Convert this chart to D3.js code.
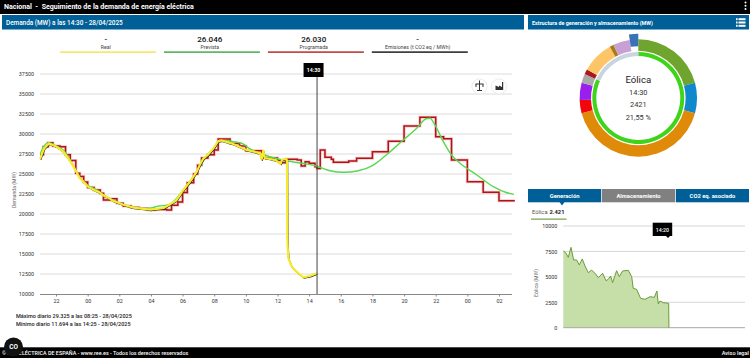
<!DOCTYPE html>
<html>
  <head>
    <title>Seguimiento de la demanda de energía eléctrica</title>
    <meta charset='utf-8' />
    <script src="https://d3js.org/d3.v7.min.js"></script>
    <style>
    html, body { margin: 0; padding: 0; background: #fff; overflow: hidden; }
    text { font-family: "Roboto", sans-serif; }
    </style>
  </head>
  <body>
    <div id="chart"></div>
    <script>
// hours counted from 00:00 of 28/04, negative = evening of 27/04
var realHours = [-3, -2.93, -2.75, -2.45, -2, -1.55, -1.25, -1, -0.5, -0.25, 0, 0.47, 0.75, 1, 1.25, 1.6, 2.25, 2.9, 3.5, 3.95, 4.4, 4.8, 5.2, 5.6, 6.05, 6.47, 6.9, 7.1, 7.3, 7.6, 7.95, 8.25, 8.45, 9.2, 10.05, 10.5, 10.9, 11, 11.1, 11.2, 11.5, 11.9, 12.2, 12.3, 12.55, 12.6, 12.62, 12.68, 12.9, 13.2, 13.63, 14.05, 14.48];
var realValues = [26900, 27300, 28200, 28800, 28450, 27800, 27000, 26300, 24500, 24000, 23450, 22950, 22700, 22300, 22100, 21650, 21150, 20800, 20650, 20550, 20650, 20750, 21200, 21700, 23000, 24050, 25300, 26200, 26900, 27400, 28200, 29100, 29200, 28750, 28000, 27800, 27580, 26800, 28000, 27000, 26900, 26700, 26300, 26800, 26900, 26700, 17000, 14500, 13410, 12790, 12090, 12250, 12590];

var forecastHours = [-3, -2.75, -2.45, -2, -1.5, -1, -0.5, 0, 0.5, 1, 1.6, 2.25, 2.9, 3.5, 4, 4.5, 5, 5.5, 6, 6.5, 7, 7.5, 8, 8.3, 8.7, 9.2, 9.8, 10.2, 11, 12, 13, 14, 14.58, 15.32, 16.16, 17.1, 18.06, 19, 19.95, 20.8, 21.4, 21.64, 21.95, 22.48, 23, 23.54, 24.6, 25.64, 26.5, 26.95];
var forecastValues = [27500, 28500, 28900, 28500, 27900, 26400, 24600, 23600, 23100, 22400, 21750, 21200, 20850, 20650, 20750, 21000, 21100, 21700, 22900, 24200, 25600, 27200, 28300, 29100, 29200, 29050, 28800, 28200, 27500, 26900, 26500, 26200, 25910, 25410, 25210, 25410, 26120, 27590, 29250, 30710, 31900, 31960, 31130, 29040, 27380, 26340, 24880, 23410, 22660, 22460];

var scheduledHours = [-3, -2.8, -2.5, -2.2, -1.75, -1.4, -1.1, -0.75, -0.5, -0.25, 0, 0.4, 0.8, 1, 1.5, 1.85, 2.25, 2.75, 3.25, 3.8, 4.25, 5, 5.3, 5.7, 6, 6.3, 6.7, 6.95, 7.2, 7.6, 8, 8.25, 9, 9.6, 10, 10.5, 11, 11.5, 12, 12.25, 12.5, 13.25, 13.5, 13.75, 14, 14.37, 14.5, 14.7, 15, 15.4, 15.53, 16.5, 17, 18, 19, 20, 21, 22, 22.5, 23, 24, 25, 26, 27];
var scheduledValues = [27400, 28400, 28900, 28500, 28400, 27400, 26700, 25100, 24700, 24000, 23300, 23000, 22600, 21750, 21900, 21350, 21000, 20800, 20700, 20500, 20550, 20500, 21100, 21500, 22700, 23900, 25000, 26100, 27000, 27400, 28000, 29375, 28800, 28500, 27900, 27900, 27000, 27000, 26700, 26400, 26830, 26750, 26000, 26540, 26330, 25900, 25700, 28000, 27080, 26830, 26460, 26625, 26960, 27790, 29100, 31000, 32080, 29660, 29400, 26750, 24040, 22710, 21660, 21660];

var yTicks = [10000, 12500, 15000, 17500, 20000, 22500, 25000, 27500, 30000, 32500, 35000, 37500];
var xTickHours = [-2, 0, 2, 4, 6, 8, 10, 12, 14, 16, 18, 20, 22, 24, 26];
var xTickLabels = ["22", "00", "02", "04", "06", "08", "10", "12", "14", "16", "18", "20", "22", "00", "02"];

var legendNames = ["Real", "Prevista", "Programada", "Emisiones (t CO2 eq / MWh)"];
var legendValues = ["-", "26.046", "26.030", "-"];
var legendColors = ["#f2e44e", "#3aa93c", "#b3201f", "#111"];

var sliceNames = ["Eólica", "Hidráulica", "Solar fotovoltaica", "Solar térmica", "Térmica renovable", "Cogeneración", "Residuos", "Ciclo combinado", "Carbón", "Nuclear", "Turbinación"];
var sliceValues = [2421, 968, 4842, 420, 549, 290, 161, 1033, 129, 536, 271];
var sliceColors = ["#6fa52e", "#0f88cc", "#e08a0a", "#f2060c", "#9a1fee", "#a9a9a9", "#a8181c", "#fdc566", "#a67c1a", "#c9a0d4", "#3a72b8"];
var ringValues = [9490, 2130];
var ringColors = ["#3fd41a", "#c8d4e0"];

var windHours = [0, 0.32, 0.68, 1.05, 1.41, 1.82, 2.18, 2.59, 2.96, 3.41, 3.87, 4.41, 4.78, 5.37, 5.82, 6.14, 6.46, 6.73, 7.28, 7.64, 8.1, 8.87, 9.33, 9.55, 10, 10.55, 11.15, 11.83, 12.42, 12.78, 12.97, 13.19, 13.65, 14.38, 14.42, 24.8];
var windValues = [7540, 7380, 6920, 7900, 6660, 6660, 6170, 6760, 6070, 5410, 5670, 5280, 4920, 5350, 4620, 4760, 5080, 4430, 5610, 5020, 5580, 5640, 5020, 3870, 3770, 2890, 2790, 3050, 2985, 3610, 2330, 2620, 2460, 2400, 0, 0];
var windTicks = [0, 2500, 5000, 7500, 10000];

var tabNames = ["Generación", "Almacenamiento", "CO2 eq. asociado"];
var tabColors = ["#005f97", "#808080", "#005f97"];

function zip(xs, ys) {
  return xs.map(function(d, i) { return [d, ys[i]]; });
}

var svg = d3.select("#chart").append("svg").attr("width", 750).attr("height", 358);

function label(x, y, txt, size, color, anchor, weight) {
  return svg.append("text").attr("x", x).attr("y", y).text(txt)
    .style("font-size", size + "px").style("fill", color)
    .style("text-anchor", anchor || "start").style("font-weight", weight || 400);
}

// page bars
svg.append("rect").attr("width", 750).attr("height", 14).attr("fill", "#000");
label(4, 9.2, "Nacional  -  Seguimiento de la demanda de energía eléctrica", 7.05, "#fff", "start", 700).attr("xml:space", "preserve");
[0, 1, 2].forEach(function(i) {
  svg.append("circle").attr("cx", 745.5).attr("cy", 2.5 + i * 3.2).attr("r", 1).attr("fill", "#fff");
});
svg.append("rect").attr("x", 2).attr("y", 15).attr("width", 522).attr("height", 14.5).attr("fill", "#005f97");
label(6, 25, "Demanda (MW) a las 14:30 - 28/04/2025", 6.4, "#fff", "start", 500);
svg.append("rect").attr("x", 528).attr("y", 15).attr("width", 221).attr("height", 14.5).attr("fill", "#005f97");
label(532, 25, "Estructura de generación y almacenamiento (MW)", 5.4, "#fff", "start", 700);
[0, 1, 2].forEach(function(i) {
  svg.append("rect").attr("x", 736).attr("y", 18.2 + i * 3.3).attr("width", 1.6).attr("height", 2).attr("fill", "#fff");
  svg.append("rect").attr("x", 738.5).attr("y", 18.2 + i * 3.3).attr("width", 7).attr("height", 2).attr("fill", "#fff");
});

// legend above the main chart
var legendX = d3.scaleBand().domain(legendNames).range([57, 466.5]).paddingInner(0.06);
legendNames.forEach(function(name, i) {
  var cx = legendX(name) + legendX.bandwidth() / 2;
  label(cx, 41.5, legendValues[i], 8, "#111", "middle", 500);
  label(cx, 49, name, 5.2, "#444", "middle");
  svg.append("rect").attr("x", legendX(name) + 3).attr("y", 51.4).attr("width", 96).attr("height", 1.4).attr("fill", legendColors[i]);
});

// main chart
var x = d3.scaleLinear().domain([-3, 27]).range([40.2, 514.8]);
var y = d3.scaleLinear().domain([10000, 37500]).range([294, 74]);

svg.append("g").selectAll("line").data(yTicks.slice(1)).enter().append("line")
  .attr("x1", 40).attr("x2", 512)
  .attr("y1", function(d) { return y(d); }).attr("y2", function(d) { return y(d); })
  .attr("stroke", "#dcdcdc").attr("stroke-width", 1);

var yAxis = svg.append("g").attr("transform", "translate(40,0)")
  .call(d3.axisLeft(y).tickValues(yTicks).tickSize(0).tickPadding(6).tickFormat(d3.format("d")));
yAxis.select(".domain").remove();
yAxis.selectAll("text").style("font-size", "5.4px").style("fill", "#333").style("font-family", "Roboto");

var xAxis = svg.append("g").attr("transform", "translate(0,294)")
  .call(d3.axisBottom(x).tickValues(xTickHours).tickSize(2.5).tickPadding(2.5)
    .tickFormat(function(d, i) { return xTickLabels[i]; }));
xAxis.select(".domain").attr("stroke", "#888").attr("d", "M40,0.5H512");
xAxis.selectAll(".tick line").attr("stroke", "#888");
xAxis.selectAll("text").style("font-size", "5.4px").style("fill", "#333").style("font-family", "Roboto");

svg.append("text").attr("transform", "translate(15.5,190) rotate(-90)").text("Demanda (MW)")
  .style("font-size", "5.2px").style("fill", "#666").style("text-anchor", "middle");

var line = d3.line().x(function(d) { return x(d[0]); }).y(function(d) { return y(d[1]); });
var stepLine = d3.line().x(function(d) { return x(d[0]); }).y(function(d) { return y(d[1]); }).curve(d3.curveStepAfter);
var smoothLine = d3.line().x(function(d) { return x(d[0]); }).y(function(d) { return y(d[1]); }).curve(d3.curveMonotoneX);

var scheduled = zip(scheduledHours, scheduledValues);
var real = zip(realHours, realValues);

svg.append("path").attr("d", stepLine(scheduled)).attr("fill", "none").attr("stroke", "#ee7070").attr("stroke-opacity", 0.4).attr("stroke-width", 3);
svg.append("path").attr("d", stepLine(scheduled)).attr("fill", "none").attr("stroke", "#ad1519").attr("stroke-width", 1.5);
svg.append("path").attr("d", smoothLine(zip(forecastHours, forecastValues))).attr("fill", "none").attr("stroke", "#58d850").attr("stroke-width", 1.4);
svg.append("path").attr("d", line(real)).attr("fill", "none").attr("stroke", "#222").attr("stroke-width", 1.1).attr("transform", "translate(0.7,1)");
svg.append("path").attr("d", line(real)).attr("fill", "none").attr("stroke", "#f6ea2a").attr("stroke-width", 2.2);

// cursor at 14:30
svg.append("line").attr("x1", x(14.5)).attr("x2", x(14.5)).attr("y1", 76).attr("y2", 294)
  .attr("stroke", "#444").attr("stroke-width", 1);
svg.append("rect").attr("x", x(14.5) - 13.5).attr("y", 63).attr("width", 20).attr("height", 14).attr("fill", "#000");
label(x(14.5) - 3.5, 72, "14:30", 5.2, "#fff", "middle", 700);

// round buttons
[479.5, 499].forEach(function(cx) {
  svg.append("circle").attr("cx", cx).attr("cy", 86.5).attr("r", 7.6).attr("fill", "#fff").attr("stroke", "#e6e6e6").attr("stroke-width", 0.8);
});
svg.append("path").attr("d", "M479.5 80.5V90.5M475.5 84H483.5M476 84V87M483 84V87M477 90.5H482").attr("stroke", "#333").attr("stroke-width", 1).attr("fill", "none");
svg.append("path").attr("d", "M495.5 90V85.5L499 87V85.5L502 87V82H503.2V90Z").attr("fill", "#333");

label(16, 318, "Máximo diario 29.325 a las 08:25 - 28/04/2025", 5.5, "#222", "start", 500);
label(16, 325.6, "Mínimo diario 11.694 a las 14:25 - 28/04/2025", 5.5, "#222", "start", 500);

// donut
var pie = d3.pie().sort(null).value(function(d) { return d; });
var outerArc = d3.arc().innerRadius(47.3).outerRadius(58.7);
var storageArc = d3.arc().innerRadius(51.7).outerRadius(64.3);
var ringArc = d3.arc().innerRadius(42).outerRadius(46);
var donut = svg.append("g").attr("transform", "translate(638.3,98)");

donut.selectAll(".ring").data(pie(ringValues)).enter().append("path").attr("class", "ring")
  .attr("d", ringArc).attr("fill", function(d, i) { return ringColors[i]; });

donut.selectAll(".slice").data(pie(sliceValues)).enter().append("path").attr("class", "slice")
  .attr("d", function(d, i) { return sliceNames[i] == "Turbinación" ? storageArc(d) : outerArc(d); })
  .attr("fill", function(d, i) { return sliceColors[i]; });

label(638.3, 83, "Eólica", 9.6, "#222", "middle");
label(638.3, 94.5, "14:30", 7.4, "#333", "middle");
label(638.3, 107, "2421", 7.4, "#333", "middle");
label(638.3, 119.5, "21,55 %", 7.4, "#333", "middle");

// tabs under the donut
var tabX = d3.scaleBand().domain(tabNames).range([528, 749]).paddingInner(0.01);
tabNames.forEach(function(name, i) {
  svg.append("rect").attr("x", tabX(name)).attr("y", 189).attr("width", tabX.bandwidth()).attr("height", 13.3).attr("fill", tabColors[i]);
  label(tabX(name) + tabX.bandwidth() / 2, 197.8, name, 5.8, "#fff", "middle", 700);
});
svg.append("path").attr("d", "M559.5 202H564.5L562 205.5Z").attr("fill", "#005f97");

// wind chart
var xWind = d3.scaleLinear().domain([0, 24.8]).range([563.3, 745]);
var yWind = d3.scaleLinear().domain([0, 10000]).range([327.7, 226]);
var wind = zip(windHours, windValues);

label(532, 213.8, "Eólica", 5.8, "#555");
label(549.5, 213.8, "2.421", 5.8, "#222", "start", 700);
svg.append("rect").attr("x", 531).attr("y", 218.6).attr("width", 35.5).attr("height", 1).attr("fill", "#5c8a2a");

svg.append("g").selectAll("line").data(windTicks.slice(1)).enter().append("line")
  .attr("x1", 563.3).attr("x2", 745)
  .attr("y1", function(d) { return yWind(d); }).attr("y2", function(d) { return yWind(d); })
  .attr("stroke", "#d2d2d2").attr("stroke-width", 0.9);

var windAxis = svg.append("g").attr("transform", "translate(563.3,0)")
  .call(d3.axisLeft(yWind).tickValues(windTicks).tickSize(0).tickPadding(6).tickFormat(d3.format("d")));
windAxis.select(".domain").remove();
windAxis.selectAll("text").style("font-size", "5.4px").style("fill", "#333").style("font-family", "Roboto");

svg.append("text").attr("transform", "translate(538,283) rotate(-90)").text("Eólica (MW)")
  .style("font-size", "5.2px").style("fill", "#666").style("text-anchor", "middle");

var windArea = d3.area().x(function(d) { return xWind(d[0]); }).y0(yWind(0)).y1(function(d) { return yWind(d[1]); });
var windLine = d3.line().x(function(d) { return xWind(d[0]); }).y(function(d) { return yWind(d[1]); });
svg.append("path").attr("d", windArea(wind)).attr("fill", "#c6dfa9");
svg.append("line").attr("x1", 563.3).attr("x2", 745).attr("y1", yWind(0)).attr("y2", yWind(0)).attr("stroke", "#a9a9a0").attr("stroke-width", 1);
svg.append("path").attr("d", windLine(wind.slice(0, 35))).attr("fill", "none").attr("stroke", "#6b9c38").attr("stroke-width", 1);

svg.append("rect").attr("x", 652.7).attr("y", 222.7).attr("width", 19.5).attr("height", 13.3).attr("fill", "#000");
svg.append("path").attr("d", "M666 236H670L668 238Z").attr("fill", "#000");
label(662.4, 231.5, "14:20", 5.2, "#fff", "middle", 500);

// footer
svg.append("rect").attr("y", 347.3).attr("width", 750).attr("height", 11).attr("fill", "#000");
label(2, 355, "© RED ELÉCTRICA DE ESPAÑA - www.ree.es - Todos los derechos reservados", 5.4, "#fff", "start", 500);
label(749, 355, "Aviso legal", 5.6, "#fff", "end", 500);
svg.append("circle").attr("cx", 13.5).attr("cy", 347).attr("r", 9.5).attr("fill", "#111");
label(13.5, 349.3, "CO", 6.5, "#fff", "middle", 700);
    </script>
  </body>
</html>
